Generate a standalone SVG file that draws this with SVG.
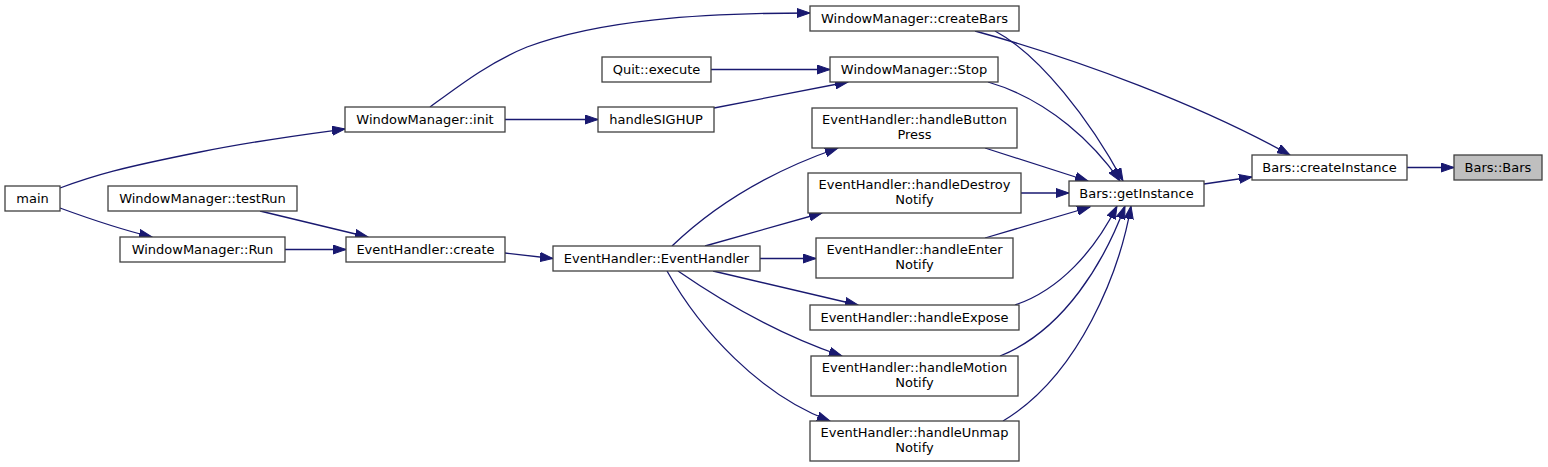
<svg xmlns="http://www.w3.org/2000/svg" width="1548" height="467" viewBox="0 0 1548 467">
<style>
.n rect{fill:#ffffff;stroke:#404040;stroke-width:1.3}
.n.f rect{fill:#bfbfbf}
.n text{font-family:"DejaVu Sans",Verdana,sans-serif;font-size:13px;fill:#000;text-anchor:middle}
.e path{fill:none;stroke:#191970;stroke-width:1.3;marker-end:url(#ah)}
</style>
<defs>
<marker id="ah" markerUnits="userSpaceOnUse" markerWidth="14" markerHeight="10" refX="13" refY="5" orient="auto">
<path d="M0,0.5 L13,5 L0,9.5 z" fill="#191970" stroke="#191970" stroke-width="1"/>
</marker>
</defs>
<rect width="1548" height="467" fill="#ffffff"/>
<g id="connectors" class="e">
<path d="M1407,167.5 L1454,167.5"/>
<path d="M1204,184 L1252,177"/>
<path d="M975,31 C1080,60 1200,105 1290,155"/>
<path d="M995,31 C1040,55 1090,120 1123,181"/>
<path d="M988,82 C1050,100 1095,145 1120,181"/>
<path d="M985,148 L1088,181"/>
<path d="M1021,193 L1069,193"/>
<path d="M985,238 L1090,207"/>
<path d="M1015,305 C1060,290 1095,250 1117,206"/>
<path d="M1000,356 C1065,330 1105,260 1125,206"/>
<path d="M1003,421 C1080,375 1120,270 1131,206"/>
<path d="M60,188 C95,175 120,168 200,152 C260,140 300,135 345,129"/>
<path d="M60,208 C90,219 115,228 152,237"/>
<path d="M260,211 L368,237"/>
<path d="M285,249.5 L346,249.5"/>
<path d="M430,107 C460,85 490,62 527,47 C600,20 700,13 810,13"/>
<path d="M505,119.5 L598,119.5"/>
<path d="M711,69.5 L830,69.5"/>
<path d="M714,108 L848,82"/>
<path d="M505,253 L553,258.5"/>
<path d="M672,246 C720,200 780,168 838,148"/>
<path d="M705,246 L822,213"/>
<path d="M760,258.5 L816,258.5"/>
<path d="M713,271 L858,305"/>
<path d="M678,271 C720,300 780,335 842,356"/>
<path d="M667,271 C700,330 760,395 830,421"/>
</g>
<g id="n_bars_bars" class="n f"><rect x="1454" y="155" width="88" height="25"/><text x="1498" y="172">Bars::Bars</text></g>
<g id="n_createInstance" class="n"><rect x="1252" y="155" width="155" height="25"/><text x="1329.5" y="172">Bars::createInstance</text></g>
<g id="n_getInstance" class="n"><rect x="1069" y="181" width="135" height="25"/><text x="1136.5" y="198">Bars::getInstance</text></g>
<g id="n_createBars" class="n"><rect x="810" y="6" width="209" height="25"/><text x="914.5" y="23">WindowManager::createBars</text></g>
<g id="n_stop" class="n"><rect x="830" y="57" width="168" height="25"/><text x="914" y="74">WindowManager::Stop</text></g>
<g id="n_buttonPress" class="n"><rect x="812" y="108" width="205" height="40"/><text x="914.5" y="124">EventHandler::handleButton</text><text x="914.5" y="139">Press</text></g>
<g id="n_destroyNotify" class="n"><rect x="808" y="173" width="213" height="40"/><text x="914.5" y="189">EventHandler::handleDestroy</text><text x="914.5" y="204">Notify</text></g>
<g id="n_enterNotify" class="n"><rect x="816" y="238" width="197" height="40"/><text x="914.5" y="254">EventHandler::handleEnter</text><text x="914.5" y="269">Notify</text></g>
<g id="n_expose" class="n"><rect x="810" y="305" width="209" height="25"/><text x="914.5" y="322">EventHandler::handleExpose</text></g>
<g id="n_motionNotify" class="n"><rect x="811" y="356" width="207" height="40"/><text x="914.5" y="372">EventHandler::handleMotion</text><text x="914.5" y="387">Notify</text></g>
<g id="n_unmapNotify" class="n"><rect x="810" y="421" width="209" height="40"/><text x="914.5" y="437">EventHandler::handleUnmap</text><text x="914.5" y="452">Notify</text></g>
<g id="n_quitExecute" class="n"><rect x="602" y="57" width="109" height="25"/><text x="656.5" y="74">Quit::execute</text></g>
<g id="n_handleSIGHUP" class="n"><rect x="598" y="107" width="116" height="25"/><text x="656" y="124">handleSIGHUP</text></g>
<g id="n_eventHandler" class="n"><rect x="553" y="246" width="207" height="25"/><text x="656.5" y="263">EventHandler::EventHandler</text></g>
<g id="n_init" class="n"><rect x="345" y="107" width="160" height="25"/><text x="425" y="124">WindowManager::init</text></g>
<g id="n_create" class="n"><rect x="346" y="237" width="159" height="25"/><text x="425.5" y="254">EventHandler::create</text></g>
<g id="n_testRun" class="n"><rect x="108" y="186" width="189" height="25"/><text x="202.5" y="203">WindowManager::testRun</text></g>
<g id="n_run" class="n"><rect x="120" y="237" width="165" height="25"/><text x="202.5" y="254">WindowManager::Run</text></g>
<g id="n_main" class="n"><rect x="5" y="186" width="55" height="25"/><text x="32.5" y="203">main</text></g>
</svg>
